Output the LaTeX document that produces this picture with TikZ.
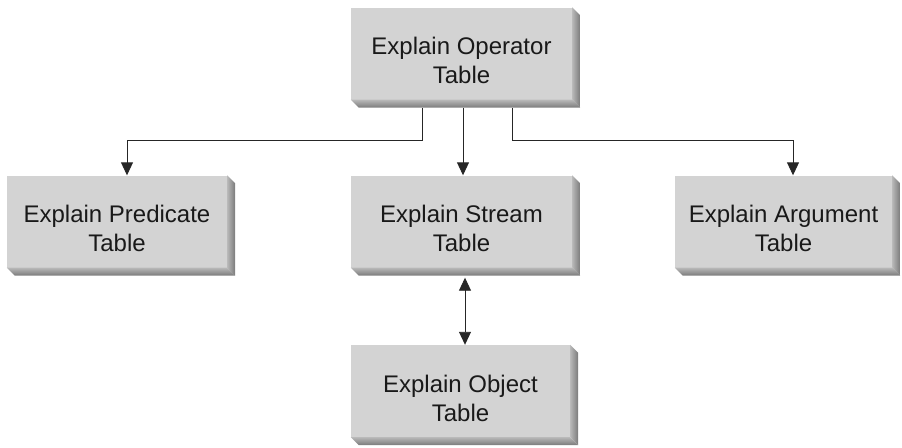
\documentclass[tikz,border=0pt]{standalone}
\usepackage{fontspec}
\setmainfont{Liberation Sans}
\usetikzlibrary{arrows.meta}
\definecolor{boxface}{HTML}{D3D3D3}
\definecolor{bevin}{HTML}{B8B8B8}
\definecolor{bevout}{HTML}{7A7A7A}
\newcommand{\boxtext}[2]{\raisebox{-10pt}[\height][\depth]{\begin{tabular}{@{}c@{}}#1\\#2\end{tabular}}}
\tikzset{
  boxnode/.style={rectangle, fill=boxface, inner sep=0pt, minimum width=221pt, minimum height=92pt,
    align=center, font=\fontsize{24}{29}\selectfont, text=black!90},
  conn/.style={line width=0.9pt, draw=black!85, -{Triangle[length=13pt,width=12pt]}},
  dconn/.style={line width=0.9pt, draw=black!85, {Triangle[length=13pt,width=12pt]}-{Triangle[length=13pt,width=12pt]}}
}
\newcommand{\bevel}[1]{%
  \shade[left color=bevin, right color=bevout] (#1.north east) -- ++(8,8) -- ([shift={(8,8)}]#1.south east) -- (#1.south east) -- cycle;
  \shade[top color=bevin, bottom color=bevout] (#1.south west) -- (#1.south east) -- ([shift={(8,8)}]#1.south east) -- ([shift={(8,8)}]#1.south west) -- cycle;
}
\begin{document}
\begin{tikzpicture}[x=1pt,y=-1pt]
\useasboundingbox (0,0) rectangle (902,447);
\node[boxnode] (op) at (461.5,53.5) {\boxtext{Explain Operator}{Table}};
\node[boxnode, minimum width=220pt] (pred) at (117,221.5) {\boxtext{Explain Predicate}{Table}};
\node[boxnode] (stream) at (461.5,221.5) {\boxtext{Explain Stream}{Table}};
\node[boxnode, minimum width=217pt] (arg) at (783.5,221.5) {\boxtext{Explain Argument}{Table}};
\node[boxnode, minimum width=219pt] (obj) at (460.5,391) {\boxtext{Explain Object}{Table}};
\bevel{op}\bevel{pred}\bevel{stream}\bevel{arg}\bevel{obj}
\coordinate (p1) at (422,108);
\coordinate (p2) at (512,108);
\draw[conn] (p1) |- (127,140) -- (pred.north -| 127,0);
\draw[conn] (op.south -| 463,0) ++(0,8) -- (stream.north -| 463,0);
\draw[conn] (p2) |- (793,140) -- (arg.north -| 793,0);
\draw[dconn] ([yshift=-10pt]stream.south -| 465,0) -- (obj.north -| 465,0);
\end{tikzpicture}
\end{document}
